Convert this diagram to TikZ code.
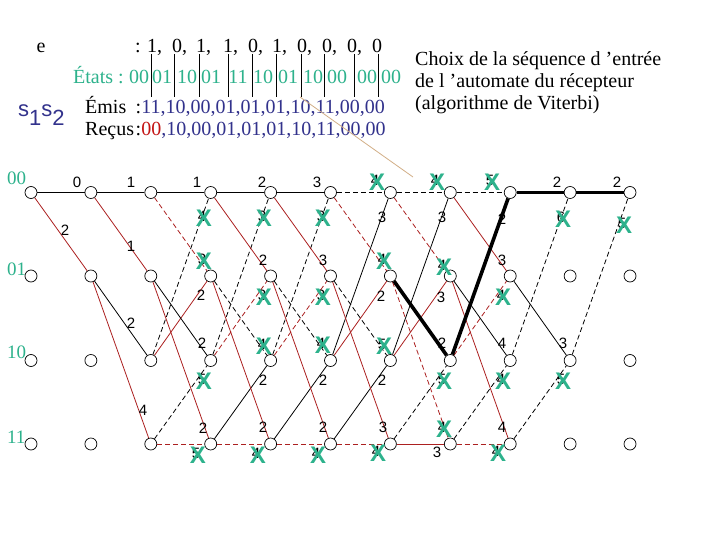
\documentclass[tikz,border=0pt]{standalone}
\usepackage{fontspec}
\setmainfont{Liberation Serif}
\setsansfont{Liberation Sans}
\definecolor{tealc}{RGB}{45,178,140}
\definecolor{navyc}{RGB}{50,50,140}
\definecolor{redline}{RGB}{172,32,32}
\definecolor{redtext}{RGB}{195,20,20}
\definecolor{tanc}{RGB}{210,175,135}
\newcommand\edg[3]{\draw[#1] (#2) -- (#3);}
\begin{document}
\begin{tikzpicture}[x=1pt,y=-1pt,
  stnode/.style={circle,draw=black,fill=white,inner sep=0pt,minimum size=12pt,line width=0.7pt},
  e0/.style={draw=black,line width=0.8pt},
  e1/.style={draw=redline,line width=0.8pt},
  dsh/.style={dash pattern=on 5pt off 3pt},
  boldpath/.style={line width=3.6pt},
  met/.style={font=\sffamily\fontsize{15}{15}\selectfont,inner sep=0pt},
  xm/.style={font=\sffamily\bfseries\fontsize{24}{24}\selectfont,text=tealc,inner sep=0pt},
  big/.style={font=\fontsize{20}{20}\selectfont,inner sep=0pt},
  rowlab/.style={font=\fontsize{19}{19}\selectfont,text=tealc,inner sep=0pt,anchor=base west},
]
\fill[white] (0,0) rectangle (720,540);
\useasboundingbox (0,0) rectangle (720,540);

% ---------- header text ----------
\node[big,anchor=base] (eletter) at (41,53) {e};
\node[big,anchor=base] (colone) at (138,53) {:};
\foreach \x/\d [count=\i] in {152/1,177/0,201/1,228/1,253/0,277/1,302/0,327/0,352/0}
  \node[big,anchor=base] (ed\i) at (\x,53) {\d\rlap{,}};
\node[big,anchor=base] (ed10) at (377,53) {0};
\foreach \x in {151,174,199,228,252,276,301,324,354,378}
  \draw[line width=0.8pt] (\x,54) -- (\x,97);

\node[big,anchor=base west,text=tealc] (etats) at (73,84) {États :};
\foreach \x/\s [count=\i] in {139/00,162/01,187/10,211/01,238/11,263/10,288/01,313/10,337/00,367/00,391/00}
  \node[big,anchor=base,text=tealc] (st\i) at (\x,84) {\s};

\node[big,anchor=base west] (emis) at (85,114) {Émis};
\node[big,anchor=base west] (emisseq) at (135.5,114) {:\textcolor{navyc}{11,10,00,01,01,01,10,11,00,00}};
\node[big,anchor=base west] (recus) at (85,136) {Reçus};
\node[big,anchor=base west] (recusseq) at (135.5,136) {:\textcolor{redtext}{00}\textcolor{navyc}{,10,00,01,01,01,10,11,00,00}};

\node[anchor=base west,inner sep=0pt,text=navyc] (sone) at (18,117)
  {\sffamily\fontsize{22}{22}\selectfont s\raisebox{-9pt}{1}s\raisebox{-9pt}{2}};

\node[big,anchor=base west] (choixa) at (415,66) {Choix de la séquence d ’entrée};
\node[big,anchor=base west] (choixb) at (415,88) {de l ’automate du récepteur};
\node[big,anchor=base west] (choixc) at (415,110) {(algorithme de Viterbi)};

\coordinate (tanA) at (300,97);
\coordinate (tanB) at (413,177);
\draw[tanc,line width=0.8pt] (tanA) -- (tanB);

% ---------- row labels ----------
\node[rowlab] (ra) at (7,185) {00};
\node[rowlab] (rb) at (7,275) {01};
\node[rowlab] (rc) at (7,358) {10};
\node[rowlab] (rd) at (7,443) {11};

% ---------- trellis nodes ----------
\foreach \k in {0,...,10} {
  \pgfmathsetmacro\xx{31+59.9*\k}
  \node[stnode] (n\k-a) at (\xx,192.5) {};
  \node[stnode] (n\k-b) at (\xx,276) {};
  \node[stnode] (n\k-c) at (\xx,360.5) {};
  \node[stnode] (n\k-d) at (\xx,444) {};
}

% ---------- edges ----------
\edg{e0}{n0-a}{n1-a}
\edg{e1}{n0-a}{n1-b}
\edg{e0}{n1-a}{n2-a}
\edg{e1}{n1-a}{n2-b}
\edg{e0}{n1-b}{n2-c}
\edg{e1}{n1-b}{n2-d}
% 2->3
\edg{e0}{n2-a}{n3-a}
\edg{e0,dsh}{n2-c}{n3-a}
\edg{e1,dsh}{n2-a}{n3-b}
\edg{e1}{n2-c}{n3-b}
\edg{e0}{n2-b}{n3-c}
\edg{e0,dsh}{n2-d}{n3-c}
\edg{e1}{n2-b}{n3-d}
\edg{e1,dsh}{n2-d}{n3-d}
% 3->4, 4->5
\foreach \p/\q in {3/4,4/5} {
  \edg{e0}{n\p-a}{n\q-a}
  \edg{e0,dsh}{n\p-c}{n\q-a}
  \edg{e1}{n\p-a}{n\q-b}
  \edg{e1,dsh}{n\p-c}{n\q-b}
  \edg{e0,dsh}{n\p-b}{n\q-c}
  \edg{e0}{n\p-d}{n\q-c}
  \edg{e1}{n\p-b}{n\q-d}
  \edg{e1,dsh}{n\p-d}{n\q-d}
}
% 5->6
\edg{e0,dsh}{n5-a}{n6-a}
\edg{e0}{n5-c}{n6-a}
\edg{e1,dsh}{n5-a}{n6-b}
\edg{e1}{n5-c}{n6-b}
\edg{e0,dsh}{n5-b}{n6-c}
\edg{e0}{n5-d}{n6-c}
\edg{e1}{n5-b}{n6-d}
\edg{e1,dsh}{n5-d}{n6-d}
% 6->7
\edg{e0,dsh}{n6-a}{n7-a}
\edg{e0}{n6-c}{n7-a}
\edg{e1,dsh}{n6-a}{n7-b}
\edg{e1}{n6-c}{n7-b}
\edg{e0,dsh}{n6-d}{n7-c}
\edg{e1,dsh}{n6-b}{n7-d}
\edg{e1}{n6-d}{n7-d}
% 7->8
\edg{e0,dsh}{n7-a}{n8-a}
\edg{e1}{n7-a}{n8-b}
\edg{e1,dsh}{n7-c}{n8-b}
\edg{e0}{n7-b}{n8-c}
\edg{e0,dsh}{n7-d}{n8-c}
\edg{e1}{n7-b}{n8-d}
\edg{e1,dsh}{n7-d}{n8-d}
% 8->9
\edg{e0,dsh}{n8-c}{n9-a}
\edg{e0}{n8-b}{n9-c}
\edg{e0,dsh}{n8-d}{n9-c}
% 9->10
\edg{e0,dsh}{n9-c}{n10-a}
% survivor path (bold)
\edg{e0,boldpath}{n6-b}{n7-c}
\edg{e0,boldpath}{n7-c}{n8-a}
\edg{e0,boldpath}{n8-a}{n9-a}
\edg{e0,boldpath}{n9-a}{n10-a}

% ---------- metrics ----------
\foreach \x/\y/\t [count=\i] in {
  77/182/0, 131/182/1, 197/182/1, 262/182/2, 317/182/3, 557/182/2, 617/182/2,
  382/217/3, 442/217/3, 502/219/2,
  65/230/2, 131/246/1, 263/260/2, 323/260/3, 502/260/3,
  201/295/2, 381/296/2, 441/297/3,
  131/323/2, 202/343/2, 442/343/2, 502/343/4, 563/343/3,
  263/380/2, 323/380/2, 382/380/2,
  143/410/4, 203/428/2, 263/427/2, 323/427/2, 383/427/3, 502/427/4,
  437/452/3}
  \node[met] (m\i) at (\x,\y) {\t};

% ---------- eliminated metrics with crosses ----------
\foreach \x/\y/\t [count=\i] in {
  377/182/4, 437/182/4, 492/182/5,
  204/218/4, 264/218/3, 323/218/3, 563/219/6, 624/225/5,
  204/261/3, 384/261/4, 444/267/4,
  264/297/3, 323/297/3, 503/297/4,
  264/346/4, 323/345/4, 384/346/5,
  204/381/5, 444/381/5, 503/381/4, 563/381/5,
  444/429/4,
  198/455/5, 258/455/4, 318/455/4, 378/453/4, 498/453/4} {
  \node[met] (h\i) at (\x-2,\y-2) {\t};
  \node[xm] (x\i) at (\x,\y) {X};
}
\end{tikzpicture}
\end{document}
